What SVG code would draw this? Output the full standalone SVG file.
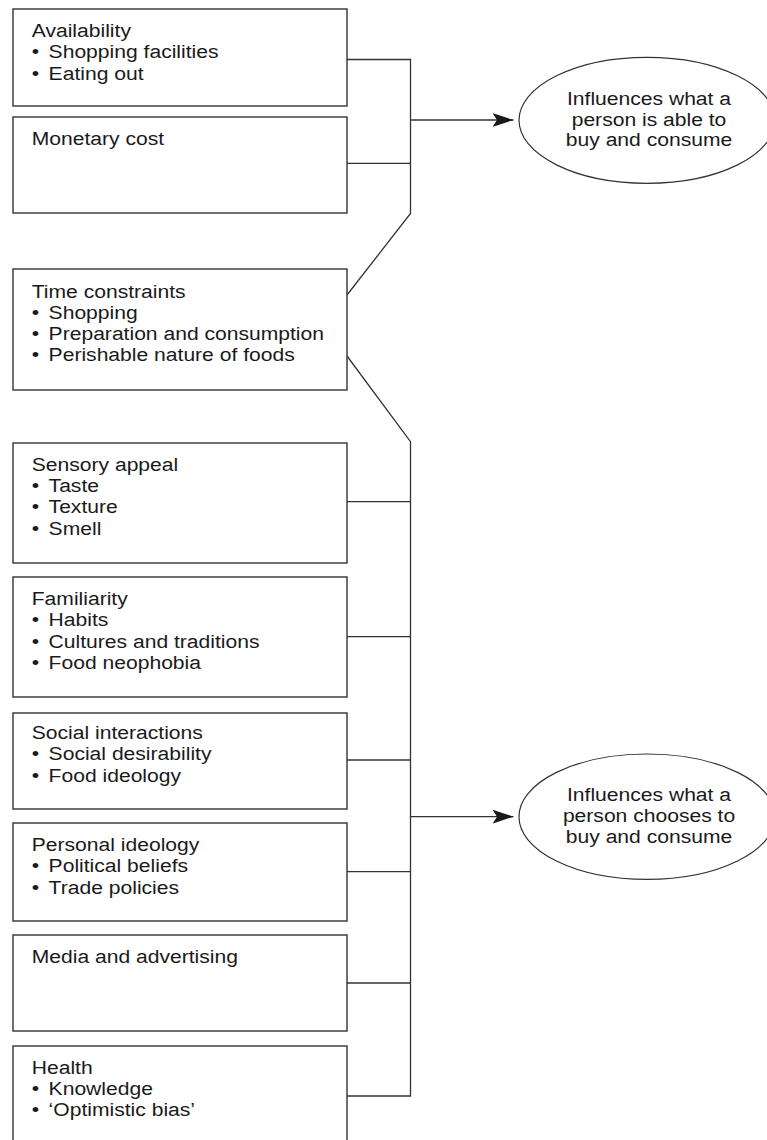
<svg xmlns="http://www.w3.org/2000/svg" width="767" height="1140" viewBox="0 0 767 1140">
<style>
.box{fill:#fff;stroke:#333;stroke-width:1.4}
.ell{fill:#fff;stroke:#333;stroke-width:1.2}
.con{fill:none;stroke:#333;stroke-width:1.3}
.t{font-family:"Liberation Sans",Arial,sans-serif;font-size:19px;fill:#1a1a1a}
.c{text-anchor:middle}
</style>
<defs>
<marker id="ah" markerUnits="userSpaceOnUse" viewBox="0 0 21 14" refX="21" refY="7" markerWidth="21" markerHeight="14" orient="auto">
<path d="M0,0 L21,7 L0,14 L4.5,7 Z" fill="#1a1a1a"/>
</marker>
</defs>
<rect width="767" height="1140" fill="#fff"/>
<g id="connectors">
<path class="con" d="M347,59.5 H410.5 V213.5 L347,295"/>
<path class="con" d="M347,163.3 H410.5"/>
<path class="con" d="M410.5,120 H513.5" marker-end="url(#ah)"/>
<path class="con" d="M347,356 L410.5,441.7 V1096 H347"/>
<path class="con" d="M347,501.7 H410.5"/>
<path class="con" d="M347,636.7 H410.5"/>
<path class="con" d="M347,760 H410.5"/>
<path class="con" d="M347,871.7 H410.5"/>
<path class="con" d="M347,983 H410.5"/>
<path class="con" d="M410.5,816.7 H513.5" marker-end="url(#ah)"/>
</g>
<g id="availability">
<rect class="box" x="13" y="9" width="334" height="97"/>
<text class="t" transform="scale(1.11 1)"><tspan x="28.6" y="36.7">Availability</tspan><tspan x="28.6" y="58.5">•</tspan><tspan x="43.8" y="58.5">Shopping facilities</tspan><tspan x="28.6" y="80">•</tspan><tspan x="43.8" y="80">Eating out</tspan></text>
</g>
<g id="monetary">
<rect class="box" x="13" y="117" width="334" height="96"/>
<text class="t" transform="scale(1.11 1)"><tspan x="28.6" y="145.3">Monetary cost</tspan></text>
</g>
<g id="time">
<rect class="box" x="13" y="269" width="334" height="121"/>
<text class="t" transform="scale(1.11 1)"><tspan x="28.6" y="298.3">Time constraints</tspan><tspan x="28.6" y="319.5">•</tspan><tspan x="43.8" y="319.5">Shopping</tspan><tspan x="28.6" y="340.5">•</tspan><tspan x="43.8" y="340.5">Preparation and consumption</tspan><tspan x="28.6" y="361">•</tspan><tspan x="43.8" y="361">Perishable nature of foods</tspan></text>
</g>
<g id="sensory">
<rect class="box" x="13" y="443" width="334" height="120"/>
<text class="t" transform="scale(1.11 1)"><tspan x="28.6" y="470.7">Sensory appeal</tspan><tspan x="28.6" y="491.8">•</tspan><tspan x="43.8" y="491.8">Taste</tspan><tspan x="28.6" y="513.3">•</tspan><tspan x="43.8" y="513.3">Texture</tspan><tspan x="28.6" y="535">•</tspan><tspan x="43.8" y="535">Smell</tspan></text>
</g>
<g id="familiarity">
<rect class="box" x="13" y="577" width="334" height="120"/>
<text class="t" transform="scale(1.11 1)"><tspan x="28.6" y="605.5">Familiarity</tspan><tspan x="28.6" y="626.5">•</tspan><tspan x="43.8" y="626.5">Habits</tspan><tspan x="28.6" y="648">•</tspan><tspan x="43.8" y="648">Cultures and traditions</tspan><tspan x="28.6" y="669.3">•</tspan><tspan x="43.8" y="669.3">Food neophobia</tspan></text>
</g>
<g id="social">
<rect class="box" x="13" y="713" width="334" height="96"/>
<text class="t" transform="scale(1.11 1)"><tspan x="28.6" y="739.5">Social interactions</tspan><tspan x="28.6" y="760.5">•</tspan><tspan x="43.8" y="760.5">Social desirability</tspan><tspan x="28.6" y="782">•</tspan><tspan x="43.8" y="782">Food ideology</tspan></text>
</g>
<g id="personal">
<rect class="box" x="13" y="823" width="334" height="98"/>
<text class="t" transform="scale(1.11 1)"><tspan x="28.6" y="851">Personal ideology</tspan><tspan x="28.6" y="872.5">•</tspan><tspan x="43.8" y="872.5">Political beliefs</tspan><tspan x="28.6" y="894">•</tspan><tspan x="43.8" y="894">Trade policies</tspan></text>
</g>
<g id="media">
<rect class="box" x="13" y="935" width="334" height="96"/>
<text class="t" transform="scale(1.11 1)"><tspan x="28.6" y="963.3">Media and advertising</tspan></text>
</g>
<g id="health">
<rect class="box" x="13" y="1046" width="334" height="120"/>
<text class="t" transform="scale(1.11 1)"><tspan x="28.6" y="1074">Health</tspan><tspan x="28.6" y="1095">•</tspan><tspan x="43.8" y="1095">Knowledge</tspan><tspan x="28.6" y="1116">•</tspan><tspan x="43.8" y="1116">‘Optimistic bias’</tspan></text>
</g>
<g id="able">
<ellipse class="ell" cx="647" cy="120.3" rx="128" ry="63"/>
<text class="t c" transform="scale(1.11 1)"><tspan x="584.7" y="105">Influences what a</tspan><tspan x="584.7" y="126">person is able to</tspan><tspan x="584.7" y="146.5">buy and consume</tspan></text>
</g>
<g id="chooses">
<ellipse class="ell" cx="647" cy="816.7" rx="128" ry="62.7"/>
<text class="t c" transform="scale(1.11 1)"><tspan x="584.7" y="801">Influences what a</tspan><tspan x="584.7" y="822">person chooses to</tspan><tspan x="584.7" y="842.7">buy and consume</tspan></text>
</g>
</svg>
